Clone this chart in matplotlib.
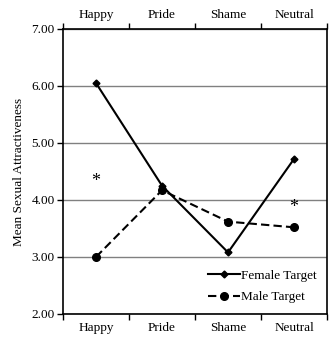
import matplotlib
matplotlib.use("Agg")
import matplotlib.pyplot as plt
from matplotlib.ticker import FixedLocator, NullFormatter, FixedFormatter

categories = ["Happy", "Pride", "Shame", "Neutral"]
female = [6.05, 4.25, 3.08, 4.72]
male = [3.00, 4.17, 3.62, 3.52]
yticks = [2.0, 3.0, 4.0, 5.0, 6.0, 7.0]
ytick_labels = ["2.00", "3.00", "4.00", "5.00", "6.00", "7.00"]
star_pos = [(0, 4.32), (3, 3.86)]

plt.rcParams['font.family'] = ['Liberation Serif', 'DejaVu Serif']

fig = plt.figure(figsize=(3.3, 3.45), dpi=100)
ax = fig.add_axes([0.191, 0.09, 0.8, 0.826])

x = list(range(len(categories)))
ax.plot(x, female, color='black', lw=1.5, marker='D', markersize=3.5, label='Female Target')
ax.plot(x, male, color='black', lw=1.5, ls=(0, (4, 2)), marker='o', markersize=5.5, label='Male Target')

for xi, yi in star_pos:
    ax.text(xi, yi, '*', ha='center', va='center', fontsize=13)

ax.set_xlim(-0.5, 3.5)
ax.set_ylim(2, 7)
ax.set_yticks(yticks)
ax.set_yticklabels(ytick_labels, fontsize=9.5)
ax.yaxis.grid(True, color='#808080', lw=1)
ax.set_axisbelow(True)

# boundary ticks, category labels in between
ax.xaxis.set_major_locator(FixedLocator([-0.5, 0.5, 1.5, 2.5, 3.5]))
ax.xaxis.set_major_formatter(NullFormatter())
ax.xaxis.set_minor_locator(FixedLocator(x))
ax.xaxis.set_minor_formatter(FixedFormatter(categories))
ax.tick_params(axis='x', which='minor', length=0, labelsize=9.5, top=True, labeltop=True, pad=6)
ax.tick_params(axis='x', which='major', length=4, direction='out', top=True, width=1)
ax.tick_params(axis='y', length=4, direction='out', width=1, pad=2)

for s in ax.spines.values():
    s.set_linewidth(1.2)
    s.set_color('black')

ax.set_ylabel('Mean Sexual Attractiveness', fontsize=9.5, labelpad=5)

leg = ax.legend(loc='lower right', frameon=False, fontsize=9.5, handlelength=2.4,
                handletextpad=0.1, labelspacing=0.7, borderaxespad=0.4)

fig.savefig('out.png', dpi=100)
